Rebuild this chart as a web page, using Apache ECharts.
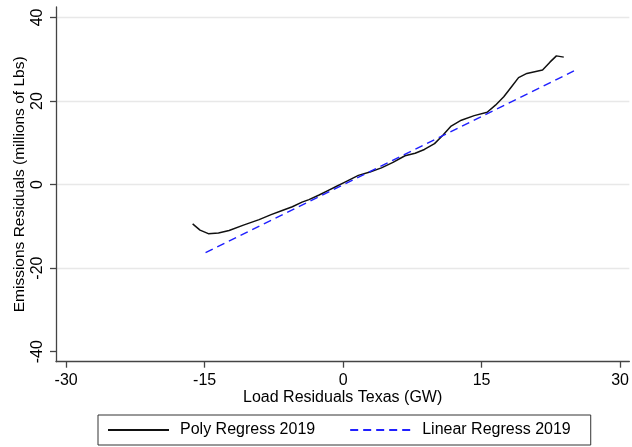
<!DOCTYPE html>
<html>
<head>
<meta charset="utf-8">
<script src="https://cdn.jsdelivr.net/npm/echarts@6/dist/echarts.min.js"></script>
<style>html,body{margin:0;padding:0;background:#fff}#c{width:632px;height:447px}</style>
</head>
<body>
<div id="c"></div>
<script>
// Poly regression curve (x = load residual GW, y = emissions residual, millions of lbs)
const polyX = [-16.3, -15.5, -14.6, -13.5, -12.35, -10.8, -9.1, -7.8, -6.6, -5.5, -4.45, -3.7, -2.6, -1.6, -0.7, 0.2, 1.65, 2.9, 4.15, 5.4, 6.7, 7.8, 8.8, 9.9, 10.8, 11.7, 12.8, 14.2, 15.6, 16.5, 17.4, 18.2, 19.0, 19.9, 21.6, 22.4, 23.1, 23.9];
const polyY = [-9.4, -10.9, -11.75, -11.6, -11.0, -9.7, -8.4, -7.2, -6.2, -5.3, -4.2, -3.6, -2.5, -1.4, -0.4, 0.6, 2.2, 3.0, 4.0, 5.3, 6.9, 7.5, 8.4, 9.8, 11.8, 14.0, 15.4, 16.5, 17.3, 19.0, 21.0, 23.3, 25.6, 26.6, 27.4, 29.3, 30.8, 30.5];
// Linear fit endpoints
const linX = [-14.9, 25.0];
const linY = [-16.3, 27.2];
const xTicks = [-30, -15, 0, 15, 30];
const yTicks = [-40, -20, 0, 20, 40];
const seriesNames = ['Poly Regress 2019', 'Linear Regress 2019'];

const zip = (a, b) => a.map((v, i) => [v, b[i]]);
const FONT = 'Liberation Sans, Arial, Helvetica, sans-serif';
const chart = echarts.init(document.getElementById('c'), null, {renderer: 'canvas'});
chart.setOption({
  animation: false,
  backgroundColor: '#fff',
  grid: {left: 56, right: 0, top: 7, bottom: 85.3, containLabel: false},
  xAxis: {
    type: 'value', min: -31.1, max: 31.0,
    name: 'Load Residuals Texas (GW)', nameLocation: 'middle', nameGap: 28, nameMoveOverlap: false,
    nameTextStyle: {fontFamily: FONT, fontSize: 16, color: '#000'},
    axisLine: {show: true, onZero: false, lineStyle: {color: '#444', width: 1.3}},
    axisTick: {show: true, length: 6, customValues: xTicks, lineStyle: {color: '#444', width: 1.3}},
    axisLabel: {customValues: xTicks, margin: 11, fontFamily: FONT, fontSize: 16, color: '#000'},
    splitLine: {show: false}
  },
  yAxis: {
    type: 'value', min: -42.4, max: 42.5,
    name: 'Emissions Residuals (millions of Lbs)', nameLocation: 'middle', nameGap: 28, nameRotate: 90, nameMoveOverlap: false,
    nameTextStyle: {fontFamily: FONT, fontSize: 15.5, color: '#000'},
    axisLine: {show: true, onZero: false, lineStyle: {color: '#444', width: 1.3}},
    axisTick: {show: true, length: 6, customValues: yTicks, lineStyle: {color: '#444', width: 1.3}},
    axisLabel: {customValues: yTicks, rotate: 90, margin: 10, fontFamily: FONT, fontSize: 16, color: '#000'},
    splitLine: {show: true, lineStyle: {color: ['rgba(0,0,0,0)', '#e8e8e8', '#e8e8e8', '#e8e8e8', '#e8e8e8'], width: 1.3}}
  },
  legend: {
    left: 98, top: 415,
    padding: [7, 20, 7, 9],
    borderColor: '#333', borderWidth: 1, borderRadius: 0,
    itemWidth: 61, itemHeight: 16, itemGap: 34,
    itemStyle: {color: 'rgba(0,0,0,0)', borderWidth: 0},
    textStyle: {fontFamily: FONT, fontSize: 16, color: '#000', padding: [0, 0, 0, 6]},
    data: seriesNames
  },
  series: [
    {
      name: seriesNames[0], type: 'line', data: zip(polyX, polyY),
      symbol: 'none', smooth: false,
      lineStyle: {color: '#111', width: 1.5}, itemStyle: {color: 'rgba(0,0,0,0)'}
    },
    {
      name: seriesNames[1], type: 'line', data: zip(linX, linY),
      symbol: 'none',
      lineStyle: {color: '#2020ff', width: 1.5, type: [8, 5]}, itemStyle: {color: 'rgba(0,0,0,0)'}
    }
  ]
});
</script>
</body>
</html>
